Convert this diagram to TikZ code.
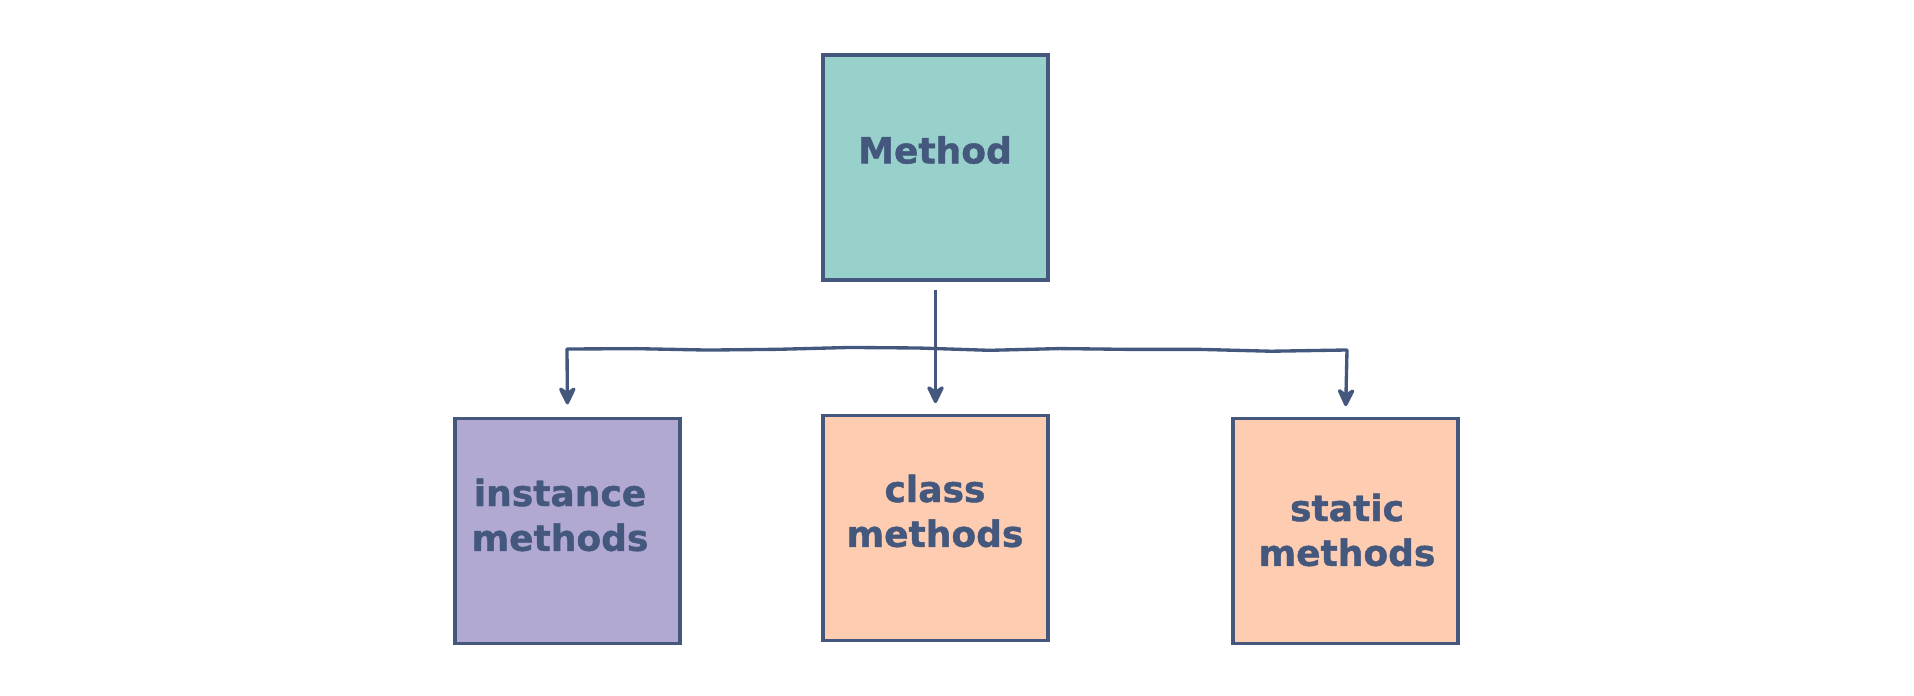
\documentclass[tikz,border=0pt]{standalone}
\usepackage{fontspec}
\setmainfont{DejaVu Sans}
\newfontfamily\lblfont{DejaVu Sans Bold}[FakeBold=1.2]
\usetikzlibrary{arrows.meta,decorations.pathmorphing}
\definecolor{ink}{HTML}{44587E}
\definecolor{teal}{HTML}{98D1CC}
\definecolor{lilac}{HTML}{B2A9D3}
\definecolor{peach}{HTML}{FECDB1}
\begin{document}
\begin{tikzpicture}[x=0.02cm,y=-0.02cm,
  box/.style={draw=ink, line width=2.1pt, minimum width=4.5cm, minimum height=4.5cm, inner sep=0pt},
  lbl/.style={text=ink, font=\lblfont\fontsize{20.5}{25.5}\selectfont, align=center},
  conn/.style={draw=ink, line width=1.9pt, line join=round, -{Stealth[length=12.5pt,width=12pt,inset=4pt,round]}},
  wavy/.style={draw=ink, line width=1.9pt, line cap=round, decorate, decoration={random steps, segment length=40pt, amplitude=1.1pt}}]
\pgfmathsetseed{7}
\useasboundingbox (0,0) rectangle (1914,696);
\node[box, fill=teal] (m) at (935.5,167.5) {};
\node[lbl] (mt) at (935,150) {Method};
\node[box, fill=lilac] (inst) at (567.5,531) {};
\node[lbl] (it) at (560,515) {instance\\methods};
\node[box, fill=peach] (cls) at (935.5,528) {};
\node[lbl] (ct) at (935,511) {class\\methods};
\node[box, fill=peach] (st) at (1345.5,531) {};
\node[lbl] (stt) at (1347,530) {static\\methods};
\coordinate (jl) at (567,349);
\coordinate (jr) at (1347,350);
\draw[conn, shorten <=4.5pt, shorten >=6pt] (m.south) -- (cls.north);
\draw[wavy] (jl) -- (jr);
\draw[conn, shorten >=7pt] (jl) -- (inst.north);
\draw[conn, shorten >=6pt] (jr) -- (st.north);
\end{tikzpicture}
\end{document}
